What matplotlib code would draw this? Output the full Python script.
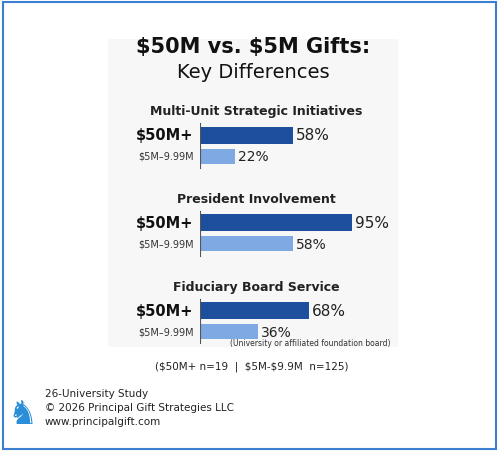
import matplotlib.pyplot as plt
from matplotlib.patches import Rectangle

plt.rcParams["text.parse_math"] = False

categories = ["Multi-Unit Strategic Initiatives", "President Involvement", "Fiduciary Board Service"]
big_gifts = [58, 95, 68]
mid_gifts = [22, 58, 36]
big_label = "$50M+"
mid_label = "$5M–9.99M"

DARK = "#1d4f9e"
LIGHT = "#7ea9e3"
W, H = 500, 460

fig = plt.figure(figsize=(5, 4.6), dpi=100)
fig.patch.set_facecolor("white")
fig.patches.append(Rectangle((3 / W, 10 / H), 493 / W, 447 / H, transform=fig.transFigure,
                             fill=False, edgecolor="#3b7fd0", lw=1.5, zorder=-2))
fig.patches.append(Rectangle((108 / W, 1 - 348 / H), 290 / W, 308 / H, transform=fig.transFigure,
                             facecolor="#f7f7f7", edgecolor="none", zorder=-2))

# axes spanning pixel rows 100..345, x from 200px (0%) to 360px (100%)
ax = fig.add_axes([200 / W, 1 - 345 / H, 160 / W, 245 / H])
ax.set_xlim(0, 100)
ax.set_ylim(345, 100)
ax.axis("off")

group_top = [112, 200, 288]
for title, big, mid, y0 in zip(categories, big_gifts, mid_gifts, group_top):
    ax.text(35, y0, title, ha="center", va="center", fontsize=9, fontweight="bold", color="#222")
    yb, ym = y0 + 24, y0 + 45
    ax.barh(yb, big, height=17, color=DARK, left=0)
    ax.barh(ym, mid, height=15, color=LIGHT, left=0)
    ax.plot([0, 0], [y0 + 12, y0 + 57], color="#555", lw=0.8)
    ax.text(big + 2, yb, f"{big}%", va="center", fontsize=11, color="#222")
    ax.text(mid + 2, ym, f"{mid}%", va="center", fontsize=10, color="#222")
    ax.text(-4, yb, big_label, va="center", ha="right", fontsize=10.5, fontweight="bold", color="#111")
    ax.text(-4, ym, mid_label, va="center", ha="right", fontsize=7, color="#333")

fig.text(230 / W, 1 - 343 / H, "(University or affiliated foundation board)", fontsize=5.5, color="#333",
         va="center")
fig.text(253 / W, 1 - 47 / H, "$50M vs. $5M Gifts:", ha="center", va="center", fontsize=15,
         fontweight="bold", color="#111")
fig.text(253 / W, 1 - 72 / H, "Key Differences", ha="center", va="center", fontsize=14, color="#111")
fig.text(252 / W, 1 - 367 / H, "($50M+ n=19  |  $5M-$9.9M  n=125)", ha="center", va="center",
         fontsize=7.5, color="#222")

fig.text(45 / W, 1 - 408 / H, "26-University Study\n© 2026 Principal Gift Strategies LLC\nwww.principalgift.com",
         va="center", fontsize=7.5, color="#222", linespacing=1.5)
fig.text(23 / W, 1 - 415 / H, "♞", ha="center", va="center", fontsize=24, color="#2b8ed8")

fig.savefig("out.png", dpi=100)
